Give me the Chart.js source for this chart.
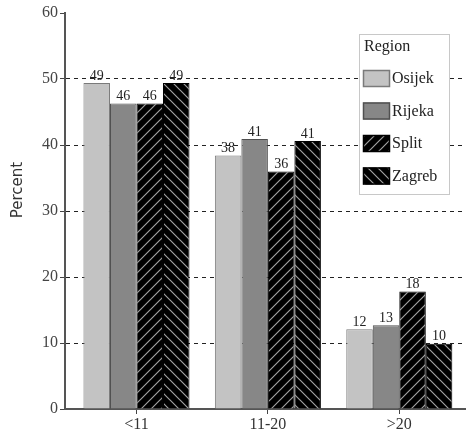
<!DOCTYPE html>
<html><head><meta charset="utf-8">
<script src="https://cdn.jsdelivr.net/npm/chart.js@4/dist/chart.umd.min.js"></script>
<style>html,body{margin:0;padding:0;background:#fff}#wrap{width:470px;height:436px}</style>
</head><body><div id="wrap"><canvas id="c" width="470" height="436"></canvas></div>
<script>
const categories = ["<11", "11-20", ">20"];
const regions = ["Osijek", "Rijeka", "Split", "Zagreb"];
const osijek = [49.4, 38.4, 12.1];
const rijeka = [46.3, 40.9, 12.7];
const split  = [46.3, 36.0, 17.8];
const zagreb = [49.4, 40.6, 9.9];
const yTicks = [0, 10, 20, 30, 40, 50, 60];
const legendTitle = "Region";
const yTitle = "Percent";

function hatch(dir) {
  const s = 10, c = document.createElement('canvas');
  c.width = s; c.height = s;
  const g = c.getContext('2d');
  g.fillStyle = '#000'; g.fillRect(0, 0, s, s);
  g.strokeStyle = '#a0a0a0'; g.lineWidth = 1.2;
  g.beginPath();
  if (dir > 0) {
    g.moveTo(-2, s + 2); g.lineTo(s + 2, -2);
    g.moveTo(-2, 2); g.lineTo(2, -2);
    g.moveTo(s - 2, s + 2); g.lineTo(s + 2, s - 2);
  } else {
    g.moveTo(-2, -2); g.lineTo(s + 2, s + 2);
    g.moveTo(s - 2, -2); g.lineTo(s + 2, 2);
    g.moveTo(-2, s - 2); g.lineTo(2, s + 2);
  }
  g.stroke();
  return document.getElementById('c').getContext('2d').createPattern(c, 'repeat');
}

const FONT = "'Liberation Serif', 'Times New Roman', serif";
const fills = ['#c3c3c3', '#878787', hatch(1), hatch(-1)];
const borders = ['#7a7a7a', '#505050', '#000', '#000'];
const series = [osijek, rijeka, split, zagreb];

const labelPlugin = {
  id: 'vals',
  afterDatasetsDraw(chart) {
    const ctx = chart.ctx;
    ctx.save();
    ctx.font = '14px ' + FONT;
    ctx.fillStyle = '#222';
    ctx.textAlign = 'center';
    ctx.textBaseline = 'bottom';
    chart.data.datasets.forEach((ds, i) => {
      chart.getDatasetMeta(i).data.forEach((bar, j) => {
        ctx.fillText(String(Math.round(ds.data[j])), bar.x, bar.y);
      });
    });
    ctx.save();
    ctx.translate(18, 190);
    ctx.rotate(-Math.PI / 2);
    ctx.font = "15px 'DejaVu Sans', sans-serif";
    ctx.fillStyle = '#333';
    ctx.textAlign = 'center';
    ctx.textBaseline = 'middle';
    ctx.fillText(yTitle, 0, 0);
    ctx.restore();
    ctx.restore();
  }
};

const legendPlugin = {
  id: 'boxLegend',
  afterDraw(chart) {
    const ctx = chart.ctx;
    const x0 = 359, y0 = 34, w = 90, h = 160;
    ctx.save();
    ctx.fillStyle = '#fff';
    ctx.fillRect(x0, y0, w, h);
    ctx.strokeStyle = '#c8c8c8'; ctx.lineWidth = 1;
    ctx.strokeRect(x0 + 0.5, y0 + 0.5, w, h);
    ctx.font = '16px ' + FONT;
    ctx.fillStyle = '#222';
    ctx.textBaseline = 'middle';
    ctx.textAlign = 'left';
    ctx.fillText(legendTitle, x0 + 5, y0 + 13);
    chart.data.datasets.forEach((ds, i) => {
      const sy = y0 + 36 + i * 32.5;
      ctx.fillStyle = ds.backgroundColor;
      ctx.fillRect(x0 + 4, sy, 27, 17);
      ctx.strokeStyle = ds.borderColor; ctx.lineWidth = 1.5;
      ctx.strokeRect(x0 + 4.5, sy + 0.5, 26, 16);
      ctx.fillStyle = '#222';
      ctx.fillText(ds.label, x0 + 33, sy + 9);
    });
    ctx.restore();
  }
};

new Chart(document.getElementById('c'), {
  type: 'bar',
  data: {
    labels: categories,
    datasets: series.map((d, i) => ({
      label: regions[i], data: d,
      backgroundColor: fills[i], borderColor: borders[i], borderWidth: 1,
      categoryPercentage: 0.807, barPercentage: 1.0
    }))
  },
  options: {
    responsive: false, animation: false,
    layout: { padding: { left: 0, right: 5, top: 13, bottom: 0 } },
    plugins: { legend: { display: false }, tooltip: { enabled: false } },
    scales: {
      x: {
        grid: { display: true, drawOnChartArea: false, drawTicks: true, offset: false, tickLength: 5, tickColor: '#444', lineWidth: 1 },
        border: { display: true, color: '#555', width: 2 },
        ticks: { color: '#333', font: { family: FONT, size: 16 }, padding: 1 },
        afterBuildTicks(s) { s._startValue = -0.544; s._valueRange = 3.044; },
        afterFit(s) { s.height = 27; }
      },
      y: {
        min: 0, max: 60,
        afterBuildTicks(s) { s.ticks = yTicks.map(v => ({ value: v })); },
        grid: {
          color: c => (c.tick && (c.tick.value === 0 || c.tick.value === 60)) ? 'rgba(0,0,0,0)' : '#222',
          tickColor: '#444', tickLength: 5, lineWidth: 1
        },
        border: { display: true, color: '#555', width: 2, dash: [4, 4] },
        ticks: { color: '#444', font: { family: FONT, size: 16 }, padding: 2 },
        title: { display: false },
        afterFit(s) { s.width = 65; }
      }
    }
  },
  plugins: [labelPlugin, legendPlugin]
});
</script></body></html>
